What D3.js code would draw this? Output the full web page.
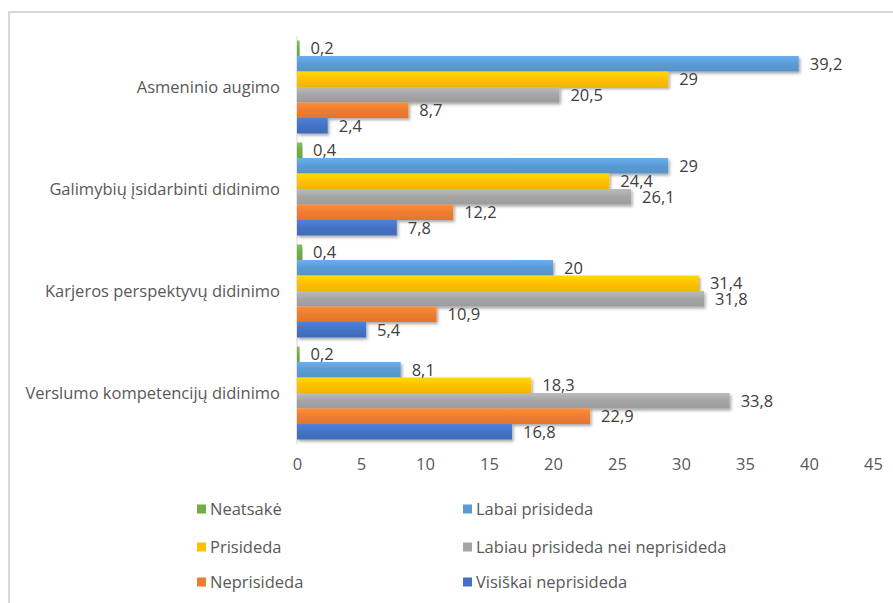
<!DOCTYPE html>
<html>
<head>
<meta charset="utf-8">
<script src="https://cdn.jsdelivr.net/npm/d3@7/dist/d3.min.js"></script>
<style>
  html, body { margin: 0; padding: 0; background: #fff; }
  svg { display: block; }
  text { font-family: "Open Sans", Lato, sans-serif; }
</style>
</head>
<body>
<svg id="chart" width="893" height="603"></svg>
<script>
const categories = ["Asmeninio augimo", "Galimybių įsidarbinti didinimo", "Karjeros perspektyvų didinimo", "Verslumo kompetencijų didinimo"];
const seriesNames = ["Neatsakė", "Labai prisideda", "Prisideda", "Labiau prisideda nei neprisideda", "Neprisideda", "Visiškai neprisideda"];
const seriesColors = ["#70AD47", "#5B9BD5", "#FFC000", "#A5A5A5", "#ED7D31", "#4472C4"];
const neatsake = [0.2, 0.4, 0.4, 0.2];
const labaiPrisideda = [39.2, 29, 20, 8.1];
const prisideda = [29, 24.4, 31.4, 18.3];
const labiauPrisideda = [20.5, 26.1, 31.8, 33.8];
const neprisideda = [8.7, 12.2, 10.9, 22.9];
const visiskaiNeprisideda = [2.4, 7.8, 5.4, 16.8];
const xTicks = [0, 5, 10, 15, 20, 25, 30, 35, 40, 45];

const seriesValues = [neatsake, labaiPrisideda, prisideda, labiauPrisideda, neprisideda, visiskaiNeprisideda];
const FONT = "'Open Sans', Lato, sans-serif";
const FS = 16.5;

const svg = d3.select("#chart");
const defs = svg.append("defs");

// frame
svg.append("rect").attr("x", 9).attr("y", 12).attr("width", 1000).attr("height", 1000)
  .attr("fill", "none").attr("stroke", "#d9d9d9").attr("stroke-width", 2);

// shadow filter
const f = defs.append("filter").attr("id", "shadow").attr("x", "-5%").attr("y", "-20%").attr("width", "120%").attr("height", "160%");
f.append("feDropShadow").attr("dx", 1.5).attr("dy", 2).attr("stdDeviation", 1.5)
  .attr("flood-color", "#000").attr("flood-opacity", 0.35);

// gradients
seriesColors.forEach((c, i) => {
  const g = defs.append("linearGradient").attr("id", "grad" + i).attr("x1", 0).attr("y1", 0).attr("x2", 0).attr("y2", 1);
  const base = d3.color(c);
  g.append("stop").attr("offset", "0%").attr("stop-color", base.brighter(0.35).formatHex());
  g.append("stop").attr("offset", "50%").attr("stop-color", c);
  g.append("stop").attr("offset", "100%").attr("stop-color", base.darker(0.15).formatHex());
});

const x = d3.scaleLinear().domain([0, 45]).range([297, 873]);
const y = d3.scaleBand().domain(categories).range([36, 444]).paddingInner(0.088).paddingOuter(0.044);
const ySub = d3.scaleBand().domain(seriesNames).range([0, y.bandwidth()]);

const fmt = v => String(v).replace(".", ",");

// axis line
svg.append("line").attr("x1", x(0)).attr("x2", x(0)).attr("y1", 36).attr("y2", 444)
  .attr("stroke", "#d9d9d9").attr("stroke-width", 1);

// bars
const groups = svg.selectAll("g.cat").data(categories).join("g").attr("class", "cat")
  .attr("transform", d => `translate(0,${y(d)})`);

seriesNames.forEach((s, si) => {
  groups.append("rect")
    .attr("x", x(0))
    .attr("y", ySub(s))
    .attr("width", (d, ci) => x(seriesValues[si][ci]) - x(0))
    .attr("height", ySub.bandwidth())
    .attr("fill", `url(#grad${si})`)
    .attr("filter", "url(#shadow)");
});
seriesNames.forEach((s, si) => {
  groups.append("text")
    .attr("x", (d, ci) => x(seriesValues[si][ci]) + 11)
    .attr("y", ySub(s) + ySub.bandwidth() / 2)
    .attr("dy", "0.35em")
    .attr("font-size", FS)
    .attr("fill", "#404040")
    .text((d, ci) => fmt(seriesValues[si][ci]));
});

// category labels
svg.selectAll("text.cat").data(categories).join("text").attr("class", "cat")
  .attr("x", 280).attr("y", d => y(d) + y.bandwidth() / 2).attr("dy", "0.35em")
  .attr("text-anchor", "end").attr("font-size", FS).attr("fill", "#595959").text(d => d);

// x axis
const xAxis = d3.axisBottom(x).tickValues(xTicks).tickSize(0).tickPadding(0).tickFormat(d => d);
const ax = svg.append("g").attr("transform", "translate(0,458)").call(xAxis);
ax.select(".domain").remove();
ax.selectAll("text").attr("font-size", FS).attr("fill", "#595959").attr("font-family", FONT);

// legend
const legX = [197, 463];
const legY = [509, 547, 582];
seriesNames.forEach((s, i) => {
  const lx = legX[i % 2], ly = legY[Math.floor(i / 2)];
  svg.append("rect").attr("x", lx).attr("y", ly - 4.5).attr("width", 9).attr("height", 9).attr("fill", seriesColors[i]);
  svg.append("text").attr("x", lx + 13).attr("y", ly).attr("dy", "0.35em")
    .attr("font-size", FS).attr("fill", "#595959").text(s);
});
</script>
</body>
</html>
